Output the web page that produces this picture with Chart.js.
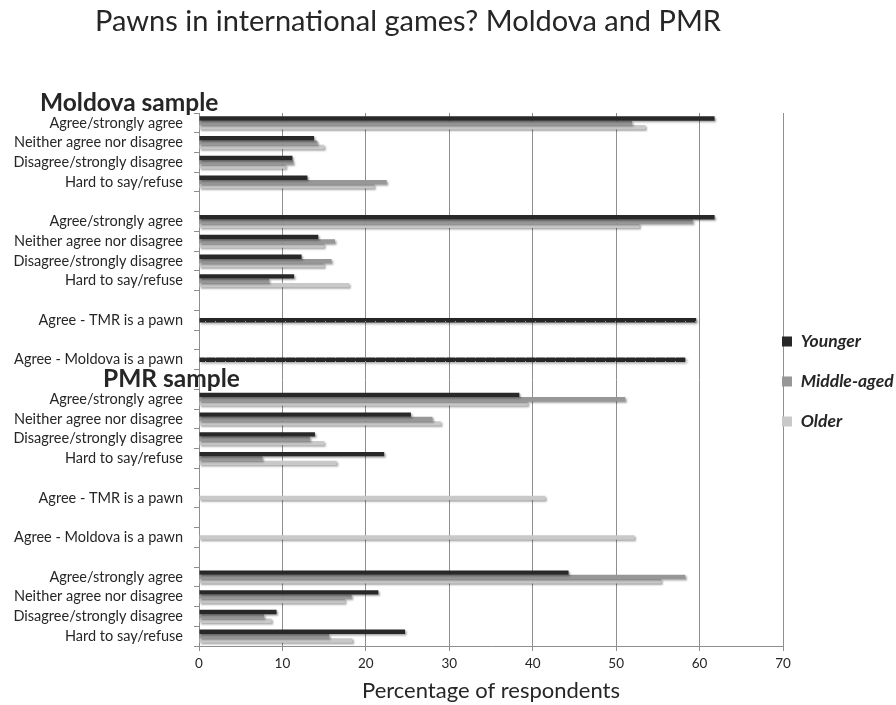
<!DOCTYPE html>
<html>
<head>
<meta charset="utf-8">
<script src="https://cdn.jsdelivr.net/npm/chart.js@4.4.1/dist/chart.umd.min.js"></script>
<style>
  html, body { margin: 0; padding: 0; background: #fff; }
  #wrap { width: 896px; height: 705px; }
</style>
</head>
<body>
<div id="wrap"><canvas id="pawnChart"></canvas></div>
<script>
const categories = [
  'Agree/strongly agree', 'Neither agree nor disagree', 'Disagree/strongly disagree', 'Hard to say/refuse', '',
  'Agree/strongly agree', 'Neither agree nor disagree', 'Disagree/strongly disagree', 'Hard to say/refuse', '',
  'Agree - TMR is a pawn', '', 'Agree - Moldova is a pawn', '',
  'Agree/strongly agree', 'Neither agree nor disagree', 'Disagree/strongly disagree', 'Hard to say/refuse', '',
  'Agree - TMR is a pawn', '', 'Agree - Moldova is a pawn', '',
  'Agree/strongly agree', 'Neither agree nor disagree', 'Disagree/strongly disagree', 'Hard to say/refuse'
];

const younger = [61.8, 13.8, 11.2, 13.0, null, 61.8, 14.3, 12.3, 11.4, null, null, null, null, null,
  38.4, 25.4, 13.9, 22.2, null, null, null, null, null, 44.3, 21.5, 9.3, 24.7];
const middleAged = [51.9, 14.2, 11.3, 22.5, null, 59.2, 16.3, 15.9, 8.4, null, null, null, null, null,
  51.1, 28.0, 13.3, 7.6, null, null, null, null, null, 58.3, 18.3, 7.8, 15.6];
const older = [53.5, 15.0, 10.4, 21.0, null, 52.8, 15.0, 15.0, 18.0, null, null, null, null, null,
  39.4, 29.0, 15.0, 16.5, null, null, null, null, null, 55.4, 17.5, 8.7, 18.4];

// single "pawn" bars, one per sample
const moldovaPawn = [null, null, null, null, null, null, null, null, null, null, 59.6, null, 58.3, null,
  null, null, null, null, null, null, null, null, null, null, null, null, null];
const pmrPawn = [null, null, null, null, null, null, null, null, null, null, null, null, null, null,
  null, null, null, null, null, 41.5, null, 52.2, null, null, null, null, null];

const xTicks = [0, 10, 20, 30, 40, 50, 60, 70];

const textColor = '#262626';
const gridColor = '#8e8e8e';

function dottedFill() {
  const p = document.createElement('canvas');
  p.width = 10; p.height = 4;
  const c = p.getContext('2d');
  c.fillStyle = '#262626';
  c.fillRect(0, 0, 10, 4);
  c.fillStyle = '#9a9a9a';
  c.fillRect(5, 1, 1, 1);
  return c.createPattern(p, 'repeat');
}

const barShadow = {
  id: 'barShadow',
  beforeDatasetsDraw(chart) {
    const c = chart.ctx;
    c.save();
    c.shadowColor = 'rgba(0,0,0,0.35)';
    c.shadowBlur = 2;
    c.shadowOffsetX = 1.5;
    c.shadowOffsetY = 1.5;
  },
  afterDatasetsDraw(chart) {
    chart.ctx.restore();
  }
};

// legend sits right on the 70 gridline
const legendPlace = {
  id: 'legendPlace',
  afterLayout(chart) {
    const lg = chart.legend;
    lg.left = chart.chartArea.right - 23.5;
    lg.right = chart.width;
    lg.width = lg.right - lg.left;
    lg.top += 2;
    lg.bottom += 2;
  }
};

const overlayText = {
  id: 'overlayText',
  afterDraw(chart) {
    const c = chart.ctx;
    const y = chart.scales.y;
    c.save();
    c.fillStyle = textColor;
    c.textBaseline = 'middle';
    c.textAlign = 'center';
    c.font = '29px Lato';
    c.fillText('Pawns in international games? Moldova and PMR', 408, 22);
    c.textAlign = 'left';
    c.font = 'bold 24.5px Lato';
    c.fillText('Moldova sample', 40, chart.chartArea.top - 10);
    c.fillText('PMR sample', 103, y.getPixelForValue(13));
    c.restore();
  }
};

function buildChart() {
  const ctx = document.getElementById('pawnChart').getContext('2d');
  new Chart(ctx, {
    type: 'bar',
    data: {
      labels: categories,
      datasets: [
        { label: 'Younger', data: younger, backgroundColor: '#282828' },
        { label: 'Middle-aged', data: middleAged, backgroundColor: '#979797' },
        { label: 'Older', data: older, backgroundColor: '#c9c9c9' },
        { label: 'Moldova pawn', data: moldovaPawn, backgroundColor: dottedFill(), grouped: false, maxBarThickness: 4.5 },
        { label: 'PMR pawn', data: pmrPawn, backgroundColor: '#c9c9c9', grouped: false, maxBarThickness: 4.5 }
      ]
    },
    options: {
      indexAxis: 'y',
      responsive: true,
      maintainAspectRatio: false,
      animation: false,
      categoryPercentage: 0.66,
      barPercentage: 1.0,
      borderWidth: 0,
      layout: { padding: { top: 113, left: 0, right: 0, bottom: 0 } },
      scales: {
        x: {
          min: 0,
          max: 70,
          afterBuildTicks(scale) { scale.ticks = xTicks.map(v => ({ value: v })); },
          afterFit(scale) { scale.height = 59; },
          grid: { color: gridColor, tickLength: 5, drawTicks: true },
          border: { color: gridColor },
          ticks: { color: textColor, font: { family: 'Lato', size: 13.5 }, padding: 5 },
          title: {
            display: true,
            text: 'Percentage of respondents',
            color: textColor,
            font: { family: 'Lato', size: 22 },
            padding: { top: 0, bottom: 1 }
          }
        },
        y: {
          afterFit(scale) { scale.width = 199; },
          grid: { drawOnChartArea: false, color: gridColor, tickLength: 5, offset: true },
          border: { color: gridColor },
          ticks: { color: textColor, font: { family: 'Lato', size: 14.5 }, padding: 11, autoSkip: false }
        }
      },
      plugins: {
        legend: {
          position: 'right',
          fullSize: false,
          maxWidth: 113,
          labels: {
            boxWidth: 10,
            boxHeight: 10,
            padding: 22.5,
            color: textColor,
            font: { family: 'Lato', size: 17.5, style: 'italic', weight: 'bold' },
            filter: item => item.datasetIndex < 3
          }
        },
        tooltip: { enabled: false }
      }
    },
    plugins: [barShadow, legendPlace, overlayText]
  });
}

document.addEventListener('DOMContentLoaded', () => {
  buildChart();
});
</script>
</body>
</html>
